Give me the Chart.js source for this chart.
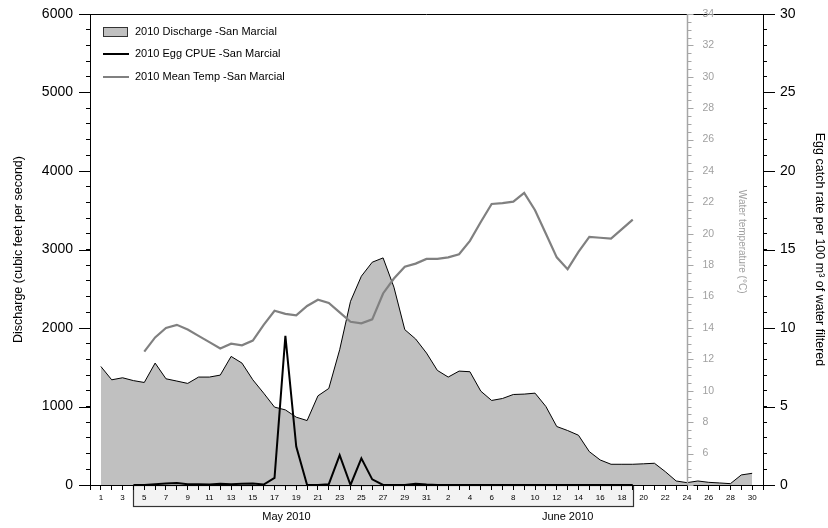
<!DOCTYPE html>
<html>
<head>
<meta charset="utf-8">
<script src="https://cdn.jsdelivr.net/npm/chart.js@4/dist/chart.umd.min.js"></script>
<style>
  html, body { margin: 0; padding: 0; background: #fff; }
  canvas { display: block; }
</style>
</head>
<body>
<canvas id="c" width="828" height="528" style="width:828px;height:528px"></canvas>
<script>
// Day of month for every day from 1 May to 30 June 2010
const dayLabels = [
  1, 2, 3, 4, 5, 6, 7, 8, 9, 10, 11, 12, 13, 14, 15, 16, 17, 18, 19, 20, 21, 22, 23, 24, 25, 26, 27, 28, 29, 30, 31,
  1, 2, 3, 4, 5, 6, 7, 8, 9, 10, 11, 12, 13, 14, 15, 16, 17, 18, 19, 20, 21, 22, 23, 24, 25, 26, 27, 28, 29, 30
];
const monthLabels = ['May 2010', 'June 2010'];

// Daily discharge, cubic feet per second
const dischargeCfs = [
  1510, 1340, 1366, 1330, 1306, 1553, 1353, 1324, 1294, 1375,
  1375, 1400, 1638, 1553, 1340, 1170, 992, 957, 864, 821,
  1136, 1230, 1723, 2340, 2660, 2838, 2893, 2520, 1979, 1860, 1681,
  1460, 1375, 1451, 1443, 1196, 1077, 1102, 1153, 1158, 1170,
  1000, 745, 694, 634, 425, 319, 264, 264, 264, 270,
  277, 170, 51, 30, 51, 34, 26, 17, 128, 149
];

// Egg catch per 100 m3 of water filtered (sampled 4 May - 19 June)
const eggCpue = [
  null, null, null, 0, 0, 0.05, 0.1, 0.12, 0.05, 0.05,
  0.03, 0.08, 0.05, 0.08, 0.1, 0.03, 0.45, 9.5, 2.45, 0,
  0, 0.05, 1.9, 0, 1.7, 0.36, 0, 0, 0, 0.08, 0.03,
  0, 0, 0, 0, 0, 0, 0, 0, 0, 0,
  0, 0, 0, 0, 0, 0, 0, 0, 0, null,
  null, null, null, null, null, null, null, null, null, null
];

// Daily mean water temperature, deg C
const meanTempC = [
  null, null, null, null, 12.5, 13.4, 14.0, 14.2, 13.9, 13.5,
  13.1, 12.7, 13.0, 12.9, 13.2, 14.2, 15.1, 14.9, 14.8, 15.4,
  15.8, 15.6, 15.0, 14.4, 14.3, 14.55, 16.2, 17.15, 17.9, 18.1, 18.4,
  18.4, 18.5, 18.7, 19.55, 20.75, 21.9, 21.95, 22.05, 22.6, 21.5,
  20.0, 18.5, 17.75, 18.85, 19.8, 19.75, 19.7, 20.3, 20.9, null,
  null, null, null, null, null, null, null, null, null, null
];

const seriesNames = [
  '2010 Discharge -San Marcial',
  '2010 Egg CPUE -San Marcial',
  '2010 Mean Temp -San Marcial'
];

const FONT = '"Liberation Sans", Arial, Helvetica, sans-serif';
Chart.defaults.font.family = FONT;
Chart.defaults.color = '#000';

const toPoints = arr => arr.map((v, i) => ({ x: i, y: v }));

// first and last sampling day of the egg survey
const sampleFirst = eggCpue.findIndex(v => v !== null);
const sampleLast = eggCpue.length - 1 - [...eggCpue].reverse().findIndex(v => v !== null);
const TEMP_AXIS_DAY = 54;          // 24 June
const MONTH_CENTERS = [17.1, 43];  // label anchors along the day axis

const decorations = {
  id: 'decorations',
  beforeDraw(chart) {
    const { ctx, scales: { x } } = chart;
    ctx.save();
    ctx.fillStyle = '#fff';
    ctx.fillRect(0, 0, chart.width, chart.height);
    // bracket marking the sampling period under the day axis
    const x0 = Math.round(x.getPixelForValue(sampleFirst)) + 0.5;
    const x1 = Math.round(x.getPixelForValue(sampleLast)) + 0.5;
    const yT = Math.round(x.top) + 0.5, yB = yT + 21;
    ctx.fillStyle = '#f3f3f3';
    ctx.fillRect(x0, yT, x1 - x0, yB - yT);
    ctx.strokeStyle = '#333';
    ctx.lineWidth = 1.2;
    ctx.strokeRect(x0, yT, x1 - x0, yB - yT);
    ctx.restore();
  },
  afterDraw(chart) {
    const { ctx, chartArea: ca, scales: { x, y, yEgg, yTemp } } = chart;
    ctx.save();
    // top frame
    ctx.strokeStyle = '#000';
    ctx.lineWidth = 1;
    ctx.beginPath();
    ctx.moveTo(ca.left, Math.round(ca.top) + 0.5);
    ctx.lineTo(ca.right, Math.round(ca.top) + 0.5);
    ctx.stroke();

    // longer marks at the labelled values of the two outer axes
    ctx.beginPath();
    for (let v = 0; v <= 6000; v += 1000) {
      const py = Math.round(y.getPixelForValue(v)) + 0.5;
      ctx.moveTo(ca.left - 11, py); ctx.lineTo(ca.left, py);
    }
    for (let v = 0; v <= 30; v += 5) {
      const py = Math.round(yEgg.getPixelForValue(v)) + 0.5;
      ctx.moveTo(ca.right, py); ctx.lineTo(ca.right + 12, py);
    }
    ctx.stroke();

    // water temperature axis standing on 24 June
    const tx = Math.round(x.getPixelForValue(TEMP_AXIS_DAY)) + 0.5;
    ctx.strokeStyle = '#a6a6a6';
    ctx.lineWidth = 1.5;
    ctx.beginPath();
    ctx.moveTo(tx, yTemp.getPixelForValue(yTemp.min));
    ctx.lineTo(tx, yTemp.getPixelForValue(yTemp.max));
    ctx.stroke();
    ctx.lineWidth = 1;
    ctx.beginPath();
    for (let t = yTemp.min; t <= yTemp.max; t += 0.5) {
      const py = Math.round(yTemp.getPixelForValue(t)) + 0.5;
      const len = (t % 2 === 0) ? 6 : 4;
      ctx.moveTo(tx, py); ctx.lineTo(tx + len, py);
    }
    ctx.stroke();
    ctx.fillStyle = '#a0a0a0';
    ctx.font = '10.5px ' + FONT;
    ctx.textAlign = 'left';
    ctx.textBaseline = 'middle';
    for (let t = 6; t <= yTemp.max; t += 2) {
      ctx.fillText(String(t), tx + 15, yTemp.getPixelForValue(t));
    }
    ctx.save();
    ctx.translate(tx + 54, yTemp.getPixelForValue(19.5));
    ctx.rotate(Math.PI / 2);
    ctx.font = '10px ' + FONT;
    ctx.textAlign = 'center';
    ctx.fillText('Water temperature (\u00B0C)', 0, 0);
    ctx.restore();

    // month captions
    ctx.fillStyle = '#000';
    ctx.font = '11px ' + FONT;
    ctx.textAlign = 'center';
    ctx.textBaseline = 'middle';
    monthLabels.forEach((m, i) => ctx.fillText(m, x.getPixelForValue(MONTH_CENTERS[i]), 517));

    // legend
    const lx = ca.left + 13;
    const rows = [ca.top + 18, ca.top + 40, ca.top + 63];
    ctx.font = '11px ' + FONT;
    ctx.textAlign = 'left';
    ctx.fillStyle = '#c0c0c0';
    ctx.fillRect(lx, rows[0] - 4.5, 24, 9);
    ctx.strokeStyle = '#333';
    ctx.lineWidth = 1;
    ctx.strokeRect(lx + 0.5, rows[0] - 4.5, 24, 9);
    ctx.lineWidth = 2;
    ctx.strokeStyle = '#000';
    ctx.beginPath(); ctx.moveTo(lx, rows[1]); ctx.lineTo(lx + 26, rows[1]); ctx.stroke();
    ctx.strokeStyle = '#808080';
    ctx.beginPath(); ctx.moveTo(lx, rows[2]); ctx.lineTo(lx + 26, rows[2]); ctx.stroke();
    ctx.fillStyle = '#000';
    seriesNames.forEach((n, i) => ctx.fillText(n, lx + 32, rows[i]));
    ctx.restore();
  }
};

// keep the end labels of the value axes from pushing the plot area inwards
const noEndPadding = s => { s.paddingTop = 0; s.paddingBottom = 0; };

new Chart(document.getElementById('c'), {
  type: 'line',
  data: {
    datasets: [
      {
        label: seriesNames[0],
        data: toPoints(dischargeCfs),
        yAxisID: 'y',
        fill: 'origin',
        backgroundColor: '#c0c0c0',
        borderColor: '#000',
        borderWidth: 1,
        pointRadius: 0,
        tension: 0,
        order: 3
      },
      {
        label: seriesNames[1],
        data: toPoints(eggCpue),
        yAxisID: 'yEgg',
        fill: false,
        borderColor: '#000',
        borderWidth: 2,
        pointRadius: 0,
        tension: 0,
        spanGaps: false,
        order: 1
      },
      {
        label: seriesNames[2],
        data: toPoints(meanTempC),
        yAxisID: 'yTemp',
        fill: false,
        borderColor: '#808080',
        borderWidth: 2.2,
        pointRadius: 0,
        tension: 0,
        spanGaps: false,
        order: 2
      }
    ]
  },
  options: {
    responsive: false,
    animation: false,
    events: [],
    layout: { padding: { top: 14, left: 0, right: 0, bottom: 0 } },
    plugins: { legend: { display: false }, tooltip: { enabled: false } },
    scales: {
      x: {
        type: 'linear',
        position: 'bottom',
        min: -1,
        max: dayLabels.length,
        afterBuildTicks: s => {
          const t = [];
          for (let v = s.min; v <= s.max; v++) t.push({ value: v });
          s.ticks = t;
        },
        ticks: {
          autoSkip: false,
          maxRotation: 0,
          font: { size: 8 },
          padding: 3,
          callback: v => (v >= 0 && v < dayLabels.length && v % 2 === 0) ? String(dayLabels[v]) : ''
        },
        grid: { drawOnChartArea: false, tickLength: 5, color: '#000', lineWidth: 1 },
        border: { color: '#000', width: 1 },
        afterFit: s => { s.height = 43; s.paddingLeft = 0; s.paddingRight = 0; }
      },
      y: {
        position: 'left',
        min: 0,
        max: 6000,
        ticks: {
          stepSize: 200,
          maxTicksLimit: 1000,
          autoSkip: false,
          font: { size: 14 },
          padding: 13,
          callback: v => (v % 1000 === 0) ? String(v) : ''
        },
        grid: { drawOnChartArea: false, tickLength: 4, color: '#000' },
        border: { color: '#000', width: 1 },
        title: {
          display: true,
          text: 'Discharge (cubic feet per second)',
          font: { size: 12.5 },
          padding: { top: 11, bottom: 0 }
        },
        afterFit: s => { s.width = 90; noEndPadding(s); }
      },
      yEgg: {
        position: 'right',
        min: 0,
        max: 30,
        ticks: {
          stepSize: 1,
          maxTicksLimit: 1000,
          autoSkip: false,
          font: { size: 14 },
          padding: 13,
          callback: v => (v % 5 === 0) ? String(v) : ''
        },
        grid: { drawOnChartArea: false, tickLength: 4, color: '#000' },
        border: { color: '#000', width: 1 },
        title: {
          display: true,
          text: 'Egg catch rate per 100 m\u00B3 of water filtered',
          font: { size: 12.5 },
          padding: { top: 1, bottom: 0 }
        },
        afterFit: s => { s.width = 65; noEndPadding(s); }
      },
      yTemp: {
        display: false,
        position: 'right',
        min: 4,
        max: 34
      }
    }
  },
  plugins: [decorations]
});
</script>
</body>
</html>
